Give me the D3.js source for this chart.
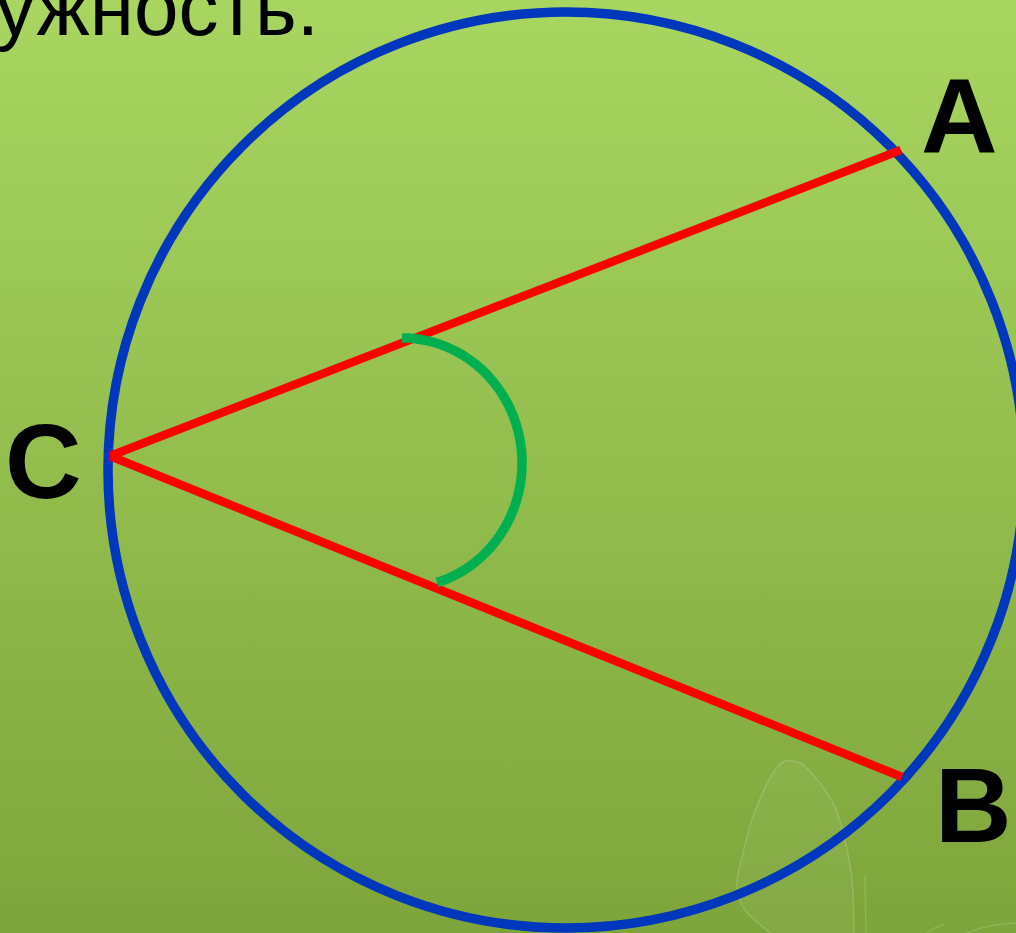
<!DOCTYPE html>
<html>
<head>
<meta charset="utf-8">
<script src="https://cdn.jsdelivr.net/npm/d3@7"></script>
<style>
  body { margin: 0; background: #8fb84a; }
  svg { display: block; }
  .label { font-family: "Liberation Sans", Arial, sans-serif; fill: #000; }
</style>
</head>
<body>
<div id="chart-container"></div>
<script>
// diagram values, in units of the circle radius (centre at 0,0)
const pointNames = ["A", "B", "C"];
const pointX = [0.7314, 0.7336, -0.9956];
const pointY = [0.6987, -0.6703, 0.0306];
// chords drawn from C to A and from C to B
const chordFrom = ["C", "C"];
const chordTo = ["A", "B"];
// angle mark (elliptic arc) centre, radii and start/end angles in degrees
const arcCentre = [-0.358, 0.0153];
const arcRadii = [0.262, 0.273];
const arcAngles = [90, -73];
// heading text (cut off on the left in the original slide)
const headingText = "ужность.";
// faint leaf decoration of the slide background (pixel coords)
const leafOutline = [[773,935],[743,907],[737,883],[742,857],[753,817],[773,773],[785,761],
                     [800,763],[820,783],[835,807],[845,840],[852,880],[854,935]];
const leafStem = [[865,875],[866,935]];
const leafCurves = [
  [[923,935],[935,928],[945,924]],
  [[960,935],[990,926],[1016,923]]
];

const width = 1016;
const height = 933;

const svg = d3.select("#chart-container")
  .append("svg")
    .attr("width", width)
    .attr("height", height);

// background gradient
const grad = svg.append("defs").append("linearGradient")
    .attr("id", "bg")
    .attr("x1", 0).attr("y1", 0).attr("x2", 0).attr("y2", 1);
grad.append("stop").attr("offset", "0%").attr("stop-color", "#a8d660");
grad.append("stop").attr("offset", "100%").attr("stop-color", "#7ea53b");
svg.append("rect")
    .attr("width", width)
    .attr("height", height)
    .attr("fill", "url(#bg)");

// leaf decoration
const rawLine = d3.line().curve(d3.curveCatmullRom);
svg.append("path")
    .attr("d", rawLine(leafOutline))
    .attr("fill", "rgba(255,255,255,0.05)")
    .attr("stroke", "rgba(255,255,255,0.16)")
    .attr("stroke-width", 1.5);
svg.append("path")
    .attr("d", rawLine(leafStem))
    .attr("fill", "none")
    .attr("stroke", "rgba(255,255,255,0.14)")
    .attr("stroke-width", 1.5);
leafCurves.forEach(c => {
  svg.append("path")
      .attr("d", rawLine(c))
      .attr("fill", "none")
      .attr("stroke", "rgba(255,255,255,0.14)")
      .attr("stroke-width", 1.5);
});

// scales: unit circle -> pixels
const x = d3.scaleLinear().domain([-1, 1]).range([108, 1024]);
const y = d3.scaleLinear().domain([-1, 1]).range([928, 12]);

const points = pointNames.map((name, i) => ({name, x: pointX[i], y: pointY[i]}));
const byName = Object.fromEntries(points.map(p => [p.name, p]));

// heading
svg.append("text")
    .attr("class", "label")
    .attr("x", 319)
    .attr("y", 35)
    .attr("text-anchor", "end")
    .style("font-size", "80px")
    .text(headingText);

// circle
svg.append("circle")
    .attr("cx", x(0))
    .attr("cy", y(0))
    .attr("r", x(1) - x(0))
    .attr("fill", "none")
    .attr("stroke", "#0038bd")
    .attr("stroke-width", 9.5);

// chords
const chords = chordFrom.map((f, i) => [byName[f], byName[chordTo[i]]]);
svg.selectAll(".chord")
  .data(chords)
  .join("line")
    .attr("class", "chord")
    .attr("x1", d => x(d[0].x))
    .attr("y1", d => y(d[0].y))
    .attr("x2", d => x(d[1].x))
    .attr("y2", d => y(d[1].y))
    .attr("stroke", "#ff0000")
    .attr("stroke-width", 8.5);

// angle mark
const steps = d3.range(0, 61).map(k => arcAngles[0] + (arcAngles[1] - arcAngles[0]) * k / 60);
const arcPts = steps.map(a => {
  const t = a * Math.PI / 180;
  return [arcCentre[0] + arcRadii[0] * Math.cos(t), arcCentre[1] + arcRadii[1] * Math.sin(t)];
});
const arcLine = d3.line().x(d => x(d[0])).y(d => y(d[1]));
svg.append("path")
    .attr("d", arcLine(arcPts))
    .attr("fill", "none")
    .attr("stroke", "#00b050")
    .attr("stroke-width", 9.5);

// point labels
const labelDx = {A: 20, B: 33, C: -105};
const labelDy = {A: 3, B: 65, C: 42};
svg.selectAll(".pt-label")
  .data(points)
  .join("text")
    .attr("class", "label pt-label")
    .attr("x", d => x(d.x) + labelDx[d.name])
    .attr("y", d => y(d.y) + labelDy[d.name])
    .style("font-size", "106px")
    .style("font-weight", "bold")
    .text(d => d.name);
</script>
</body>
</html>
